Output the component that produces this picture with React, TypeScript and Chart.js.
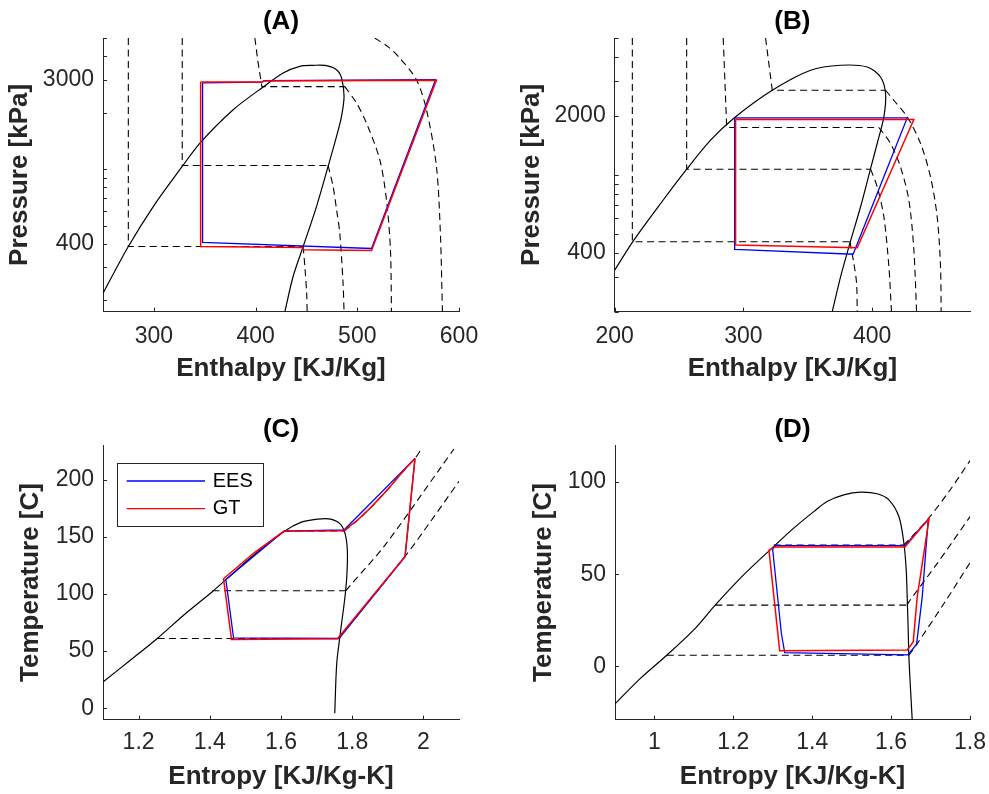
import React, { useEffect, useRef } from 'react';
import { Chart, registerables } from 'chart.js';

Chart.register(...registerables);

type Pt = [number, number];

const FONT = '"Liberation Sans", Arial, Helvetica, sans-serif';
const AXIS = '#262626';

// ---------- Panel A : P-h (log P) ----------
const aDome: Pt[] = [[250, 218], [274.9, 387], [299.4, 632], [327.9, 1034], [345.3, 1378], [378, 2075], [407.5, 2741], [427.1, 3256], [443.5, 3533], [456.6, 3575], [468.1, 3572], [479.6, 3391], [484.5, 3064], [487, 2443], [484.5, 1911], [479.6, 1495], [471.3, 1034], [459.9, 632], [446.8, 387], [436.9, 268], [428.8, 174]];
const aIso1: Pt[] = [[274.9, 5000], [274.9, 387], [446.8, 387], [448.5, 300], [450.2, 220], [450.7, 174]];
const aIso2: Pt[] = [[327.9, 5000], [327.9, 1047], [471.3, 1047], [476.2, 809], [479.8, 600], [482.8, 456], [486, 247], [487, 174]];
const aIso3: Pt[] = [[399.3, 5000], [402.5, 3681], [406.2, 2752], [487.8, 2752], [499.2, 2253], [509, 1762], [522.1, 1123], [528.7, 687], [532.6, 372], [533.6, 174]];
const aIso4: Pt[] = [[517.2, 5000], [530, 4500], [541.7, 3915], [558.1, 3000], [568, 2075], [577.8, 1034], [581.7, 456], [583.7, 174]];
const aBlue: Pt[] = [[347.9, 2880], [406.2, 2908], [408.2, 2963], [576.9, 3000], [514, 378], [347.9, 407], [347.9, 2880]];
const aRed: Pt[] = [[346.0, 2917], [406.9, 2917], [408.2, 2952], [577.8, 2974], [514, 369], [447.4, 372], [446.2, 382], [346.0, 387], [346.0, 2917]];
const aXTicks = [300, 400, 500, 600];
const aYTicks = [400, 3000];
const logMarks = [200, 300, 400, 500, 600, 700, 800, 900, 1000, 2000, 3000, 4000, 5000];

// ---------- Panel B : P-h (log P) ----------
const bDome: Pt[] = [[200, 326], [213.7, 452], [235.7, 714], [256.4, 1078], [274.5, 1503], [293.2, 1963], [322.4, 2704], [352.2, 3420], [375.5, 3628], [396.1, 3556], [406.5, 3160], [410.4, 2602], [409.1, 1977], [403.9, 1446], [398.8, 1078], [391, 687], [381.9, 429], [375.5, 302], [369, 200]];
const bIso1: Pt[] = [[213.7, 5000], [213.7, 455], [382.7, 455], [385.8, 353], [387.9, 279], [388.4, 200]];
const bIso2: Pt[] = [[255.9, 5000], [255.9, 1069], [398.8, 1069], [403.9, 869], [409.1, 611], [413, 339], [415, 200]];
const bIso3: Pt[] = [[284.3, 5000], [287, 1745], [405.2, 1745], [414.3, 1446], [422, 1098], [428.5, 743], [432.4, 413], [434.5, 200]];
const bIso4: Pt[] = [[317.2, 5000], [322.4, 2704], [410.4, 2704], [416.8, 2404], [427.2, 1977], [437.6, 1446], [445.3, 977], [450.5, 611], [453.1, 339], [453.6, 200]];
const bBlue: Pt[] = [[293.2, 1953], [427.2, 1953], [385.2, 393], [293.4, 416], [293.2, 1953]];
const bRed: Pt[] = [[293.9, 1917], [432.4, 1917], [388.4, 424], [294.2, 438], [293.9, 1917]];
const bXTicks = [200, 300, 400];
const bYTicks = [400, 2000];

// ---------- Panel C : T-s ----------
const cDome: Pt[] = [[1.1, 23], [1.1784, 42.4], [1.2533, 61.3], [1.328, 81.8], [1.4077, 102.2], [1.4498, 113.8], [1.5245, 134.3], [1.6087, 154.7], [1.6556, 162.6], [1.7025, 165.5], [1.7398, 165.5], [1.7679, 160.6], [1.7819, 150.3], [1.7867, 132.8], [1.7819, 103.7], [1.7679, 68.7], [1.7566, 39.4], [1.751, -4.4]];
const cIso1: Pt[] = [[1.253, 61], [1.762, 61], [1.9484, 132.8], [2.0205, 163.5], [2.1, 198.5]];
const cIso2: Pt[] = [[1.4077, 102.8], [1.782, 102.8], [1.796, 108], [1.8894, 141.6], [2.0486, 210.5], [2.0859, 226.8]];
const cIso3: Pt[] = [[1.6087, 155], [1.777, 155], [1.8147, 164.4], [1.852, 175.5], [1.899, 191.2], [1.9456, 208.1], [1.9764, 218.6], [1.9944, 226.8]];
const cBlue: Pt[] = [[1.9764, 218.6], [1.777, 155.9], [1.6087, 155], [1.445, 112.7], [1.4667, 61.6], [1.763, 61], [1.9484, 132.5], [1.9764, 218.6]];
const cRed: Pt[] = [[1.9764, 218.6], [1.9456, 208.1], [1.899, 191.2], [1.852, 175.5], [1.8147, 164.4], [1.791, 158.8], [1.777, 155.2], [1.6087, 155], [1.5245, 136], [1.4386, 113.3], [1.461, 60.2], [1.7586, 60.8], [1.9484, 132.8], [1.9764, 218.6]];
const cXTicks = [1.2, 1.4, 1.6, 1.8, 2];
const cYTicks = [0, 50, 100, 150, 200];

// ---------- Panel D : T-s ----------
const dDome: Pt[] = [[0.9, -20.4], [0.9637, -6.7], [1.0313, 6], [1.099, 19.6], [1.1541, 33.2], [1.226, 49.6], [1.3022, 65], [1.353, 75], [1.4038, 84], [1.4376, 89.5], [1.48, 93.1], [1.5224, 94.6], [1.5646, 93.7], [1.5943, 90.4], [1.6197, 81.3], [1.6324, 66.8], [1.6383, 52.3], [1.6408, 37.7], [1.6433, 19.6], [1.6451, 5.1], [1.6494, -13.1], [1.6535, -29.1]];
const dIso1: Pt[] = [[1.0313, 6], [1.6451, 6], [1.6662, 12.3], [1.734, 34.1], [1.8017, 56.8]];
const dIso2: Pt[] = [[1.1541, 33.2], [1.6408, 33.2], [1.6451, 35], [1.717, 55.9], [1.8033, 82.2]];
const dIso3: Pt[] = [[1.3022, 65.9], [1.6324, 65.9], [1.6916, 79.5], [1.7467, 94.9], [1.8017, 112.2]];
const dBlue: Pt[] = [[1.3073, 65.5], [1.6349, 65.5], [1.6941, 79.8], [1.6789, 37.7], [1.6646, 12], [1.6425, 6.2], [1.3302, 7.4], [1.3218, 17.8], [1.2997, 63.7], [1.3073, 65.5]];
const dRed: Pt[] = [[1.2903, 63], [1.3022, 64.8], [1.6349, 64.8], [1.6965, 80.4], [1.6662, 37.7], [1.656, 13.2], [1.6408, 8.9], [1.3175, 8.5], [1.2903, 63]];
const dXTicks = [1, 1.2, 1.4, 1.6, 1.8];
const dYTicks = [0, 50, 100];

const legendLabels = ['EES', 'GT'];

interface PanelCfg {
  title: string;
  xLabel: string;
  yLabel: string;
  xMin: number; xMax: number; yMin: number; yMax: number;
  yLog: boolean;
  xTicks: number[]; yTicks: number[]; yMarks: number[];
  W: number; H: number;
  area: { left: number; right: number; top: number; bottom: number };
  titleMid: number; xTitleMid: number; yTitleMid: number; xTickPad: number;
  dome: Pt[]; isos: Pt[][]; isoKnee: number[]; blue: Pt[]; red: Pt[];
  legend?: boolean;
  posLeft: number; posTop: number;
}

const panels: PanelCfg[] = [
  {
    title: '(A)', xLabel: 'Enthalpy [KJ/Kg]', yLabel: 'Pressure [kPa]',
    xMin: 250, xMax: 600, yMin: 174, yMax: 5000, yLog: true,
    xTicks: aXTicks, yTicks: aYTicks, yMarks: logMarks,
    W: 494, H: 397, area: { left: 103, right: 459, top: 38, bottom: 311.7 },
    titleMid: 21.7, xTitleMid: 369, yTitleMid: 20, xTickPad: 11.5,
    dome: aDome, isos: [aIso1, aIso2, aIso3, aIso4], isoKnee: [2, 2, 3, 0], blue: aBlue, red: aRed,
    posLeft: 0, posTop: 0,
  },
  {
    title: '(B)', xLabel: 'Enthalpy [KJ/Kg]', yLabel: 'Pressure [kPa]',
    xMin: 200, xMax: 476, yMin: 200, yMax: 5000, yLog: true,
    xTicks: bXTicks, yTicks: bYTicks, yMarks: logMarks,
    W: 495, H: 397, area: { left: 120.7, right: 476, top: 38, bottom: 311.7 },
    titleMid: 21.7, xTitleMid: 369, yTitleMid: 38, xTickPad: 11.5,
    dome: bDome, isos: [bIso1, bIso2, bIso3, bIso4], isoKnee: [2, 2, 2, 2], blue: bBlue, red: bRed,
    posLeft: 494, posTop: 0,
  },
  {
    title: '(C)', xLabel: 'Entropy [KJ/Kg-K]', yLabel: 'Temperature [C]',
    xMin: 1.1, xMax: 2.1, yMin: -10, yMax: 230, yLog: false,
    xTicks: cXTicks, yTicks: cYTicks, yMarks: cYTicks,
    W: 494, H: 397, area: { left: 103, right: 459, top: 48.3, bottom: 322.7 },
    titleMid: 32.7, xTitleMid: 379.6, yTitleMid: 31, xTickPad: 9.5,
    dome: cDome, isos: [cIso1, cIso2, cIso3], isoKnee: [1, 1, 1], blue: cBlue, red: cRed,
    legend: true,
    posLeft: 0, posTop: 397,
  },
  {
    title: '(D)', xLabel: 'Entropy [KJ/Kg-K]', yLabel: 'Temperature [C]',
    xMin: 0.9, xMax: 1.8, yMin: -29, yMax: 120, yLog: false,
    xTicks: dXTicks, yTicks: dYTicks, yMarks: dYTicks,
    W: 495, H: 397, area: { left: 121, right: 476, top: 48.3, bottom: 322.7 },
    titleMid: 32.7, xTitleMid: 379.6, yTitleMid: 50, xTickPad: 9.5,
    dome: dDome, isos: [dIso1, dIso2, dIso3], isoKnee: [1, 1, 1], blue: dBlue, red: dRed,
    posLeft: 494, posTop: 397,
  },
];

const toXY = (pts: Pt[]) => pts.map(([x, y]) => ({ x, y }));

function Panel({ cfg }: { cfg: PanelCfg }) {
  const ref = useRef<HTMLCanvasElement | null>(null);

  useEffect(() => {
    if (!ref.current) return;
    const a = cfg.area;
    const titleLH = 26 * 1.2;

    const ticksPlugin = {
      id: 'inwardTicks',
      afterDraw(chart: any) {
        const { ctx, chartArea, scales } = chart;
        ctx.save();
        ctx.strokeStyle = AXIS;
        ctx.lineWidth = 1;
        ctx.beginPath();
        for (const v of cfg.xTicks) {
          const x = Math.round(scales.x.getPixelForValue(v)) + 0.5;
          ctx.moveTo(x, chartArea.bottom);
          ctx.lineTo(x, chartArea.bottom - 4);
        }
        for (const v of cfg.yMarks) {
          const y = Math.round(scales.y.getPixelForValue(v)) + 0.5;
          ctx.moveTo(chartArea.left, y);
          ctx.lineTo(chartArea.left + 4, y);
        }
        ctx.stroke();
        ctx.restore();
      },
    };

    const legendPlugin = {
      id: 'boxLegend',
      afterDatasetsDraw(chart: any) {
        if (!cfg.legend) return;
        const { ctx } = chart;
        ctx.save();
        ctx.fillStyle = '#ffffff';
        ctx.fillRect(117.5, 66.5, 146, 63);
        ctx.strokeStyle = AXIS;
        ctx.lineWidth = 1;
        ctx.strokeRect(117.5, 66.5, 146, 63);
        const rows = [
          { label: legendLabels[0], color: '#0000ff', y: 84 },
          { label: legendLabels[1], color: '#ff0000', y: 111.7 },
        ];
        ctx.font = `20px ${FONT}`;
        ctx.textBaseline = 'middle';
        ctx.textAlign = 'left';
        for (const r of rows) {
          ctx.strokeStyle = r.color;
          ctx.lineWidth = 1.3;
          ctx.beginPath();
          ctx.moveTo(126.7, r.y);
          ctx.lineTo(205, r.y);
          ctx.stroke();
          ctx.fillStyle = '#000000';
          ctx.fillText(r.label, 212.7, r.y);
        }
        ctx.restore();
      },
    };

    const isoSets: any[] = [];
    cfg.isos.forEach((iso, i) => {
      const k = cfg.isoKnee[i];
      const base = { borderColor: '#000000', borderWidth: 1.1, borderDash: [7, 4.5], showLine: true, pointRadius: 0 };
      if (k > 0) isoSets.push({ ...base, label: 'iso' + i + 'a', data: toXY(iso.slice(0, k + 1)), tension: 0 });
      isoSets.push({ ...base, label: 'iso' + i + 'b', data: toXY(iso.slice(k)), tension: 0.3 });
    });

    const datasets: any[] = [
      { label: 'GT', data: toXY(cfg.red), borderColor: '#ff0000', borderWidth: 1.5, showLine: true, pointRadius: 0, tension: 0 },
      { label: 'EES', data: toXY(cfg.blue), borderColor: '#0000ff', borderWidth: 1.3, showLine: true, pointRadius: 0, tension: 0 },
      { label: 'dome', data: toXY(cfg.dome), borderColor: '#000000', borderWidth: 1.2, showLine: true, pointRadius: 0, tension: 0.3 },
      ...isoSets,
    ];

    const chart = new Chart(ref.current, {
      type: 'scatter',
      data: { datasets },
      options: {
        responsive: false,
        animation: false,
        devicePixelRatio: 1,
        events: [],
        layout: { padding: { left: 0, top: 0, bottom: 0, right: cfg.W - a.right } },
        plugins: {
          legend: { display: false },
          tooltip: { enabled: false },
          title: {
            display: true,
            text: cfg.title,
            fullSize: false,
            color: '#000000',
            font: { family: FONT, size: 26, weight: 'bold' },
            padding: { top: cfg.titleMid - titleLH / 2, bottom: Math.max(0, a.top - titleLH - (cfg.titleMid - titleLH / 2)) },
          },
        },
        scales: {
          x: {
            type: 'linear',
            min: cfg.xMin,
            max: cfg.xMax,
            afterBuildTicks: (s: any) => { s.ticks = cfg.xTicks.map((v) => ({ value: v })); },
            afterFit: (s: any) => { s.height = cfg.H - a.bottom; s.paddingLeft = 0; s.paddingRight = 0; },
            ticks: {
              callback: (v: any) => String(v),
              color: AXIS,
              font: { family: FONT, size: 23 },
              padding: cfg.xTickPad,
              maxRotation: 0,
              autoSkip: false,
            },
            grid: { display: true, drawOnChartArea: false, drawTicks: false },
            border: { display: true, color: AXIS, width: 1 },
            title: {
              display: true,
              text: cfg.xLabel,
              color: AXIS,
              font: { family: FONT, size: 26, weight: 'bold' },
              padding: { top: 0, bottom: cfg.H - cfg.xTitleMid - titleLH / 2 },
            },
          },
          y: {
            type: cfg.yLog ? 'logarithmic' : 'linear',
            min: cfg.yMin,
            max: cfg.yMax,
            afterBuildTicks: (s: any) => { s.ticks = cfg.yTicks.map((v) => ({ value: v })); },
            afterFit: (s: any) => { s.width = a.left; s.paddingTop = 0; s.paddingBottom = 0; },
            ticks: {
              callback: (v: any) => String(v),
              color: AXIS,
              font: { family: FONT, size: 23 },
              padding: 9,
              autoSkip: false,
            },
            grid: { display: true, drawOnChartArea: false, drawTicks: false },
            border: { display: true, color: AXIS, width: 1 },
            title: {
              display: true,
              text: cfg.yLabel,
              color: AXIS,
              font: { family: FONT, size: 26, weight: 'bold' },
              padding: { top: cfg.yTitleMid - titleLH / 2, bottom: 0 },
            },
          },
        } as any,
      },
      plugins: [ticksPlugin, legendPlugin],
    } as any);
    return () => chart.destroy();
  }, [cfg]);

  return (
    <canvas
      ref={ref}
      width={cfg.W}
      height={cfg.H}
      style={{ position: 'absolute', left: cfg.posLeft, top: cfg.posTop, width: cfg.W, height: cfg.H }}
    />
  );
}

export default function App() {
  return (
    <div style={{ position: 'absolute', left: 0, top: 0, width: 989, height: 794, background: '#ffffff', overflow: 'hidden' }}>
      {panels.map((p) => (
        <Panel key={p.title} cfg={p} />
      ))}
    </div>
  );
}
